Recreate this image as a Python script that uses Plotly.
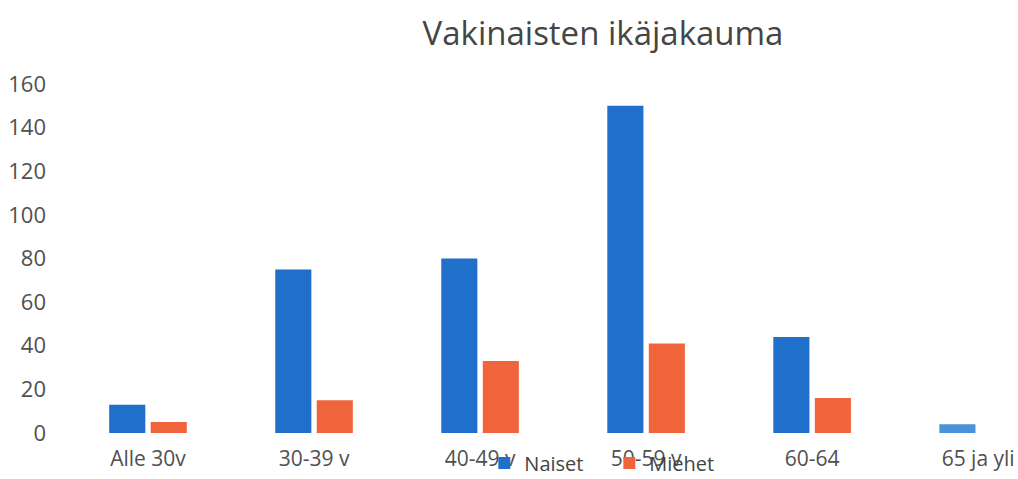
import plotly.graph_objects as go

categories = ["Alle 30v", "30-39 v", "40-49 v", "50-59 v", "60-64", "65 ja yli"]
naiset = [13, 75, 80, 150, 44, 4]
miehet = [5, 15, 33, 41, 16, 0]
y_ticks = [0, 20, 40, 60, 80, 100, 120, 140, 160]

blue = "#1F6FCB"
orange = "#F0643C"
naiset_colors = [blue] * 5 + ["#4A92DC"]

fig = go.Figure()
fig.add_trace(go.Bar(name="Naiset", x=categories, y=naiset,
                     marker=dict(color=naiset_colors, line=dict(width=0))))
fig.add_trace(go.Bar(name="Miehet", x=categories, y=miehet,
                     marker=dict(color=orange, line=dict(width=0))))

font = "'Open Sans', sans-serif"
fig.update_layout(
    width=1018, height=479,
    margin=dict(l=65, r=0, t=84, b=46, autoexpand=False),
    paper_bgcolor="white", plot_bgcolor="white",
    barmode="group", bargap=0.5, bargroupgap=0.13,
    title=dict(text="Vakinaisten ikäjakauma", x=603 / 1018, xanchor="center",
               y=1 - 33 / 479, yanchor="middle", xref="container", yref="container",
               font=dict(family=font, size=33, color="#454545")),
    font=dict(family=font, size=21, color="#555555"),
    xaxis=dict(range=[-0.5, 5.24], showgrid=False, showline=False, zeroline=False,
               ticks="", tickfont=dict(size=21, color="#505050"), ticklabelstandoff=11,
               fixedrange=True),
    yaxis=dict(range=[0, 160], tickvals=y_ticks, showgrid=False, showline=False,
               zeroline=False, ticks="", ticklabelstandoff=18,
               tickfont=dict(size=22, color="#505050")),
    legend=dict(orientation="h", x=0.44, xanchor="left", y=-0.086, yanchor="middle",
                bgcolor="rgba(0,0,0,0)", font=dict(size=20, color="#444444"),
                entrywidth=80, entrywidthmode="pixels", itemwidth=30),
    showlegend=True,
)

fig.write_html("out.html", config={"displayModeBar": False},
               post_script="document.body.style.margin='0';")
